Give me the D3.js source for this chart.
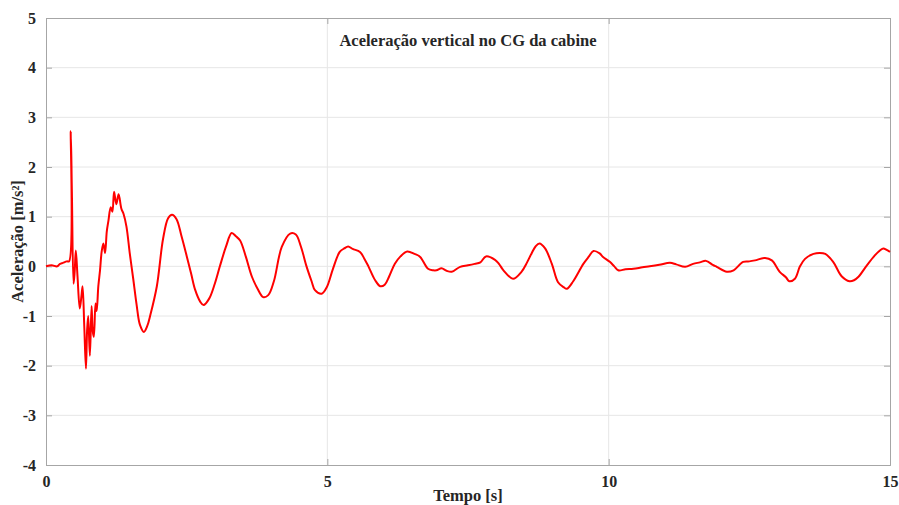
<!DOCTYPE html>
<html>
<head>
<meta charset="utf-8">
<script src="https://cdn.jsdelivr.net/npm/d3@7"></script>
<style>
  body { margin: 0; background: #fff; }
  text { font-family: "Liberation Serif", "Times New Roman", serif; font-weight: bold; fill: #262626; }
</style>
</head>
<body>
<svg id="chart"></svg>
<script>
var title = "Aceleração vertical no CG da cabine";
var xLabel = "Tempo [s]";
var yLabel = "Aceleração [m/s²]";
var xTicks = [0, 5, 10, 15];
var yTicks = [-4, -3, -2, -1, 0, 1, 2, 3, 4, 5];

// tempo [s] e aceleração [m/s²]
var tempo = [0, 0.1, 0.2, 0.25, 0.3, 0.37, 0.41, 0.44, 0.46, 0.49, 0.51, 0.53, 0.56, 0.6, 0.63, 0.65, 0.68, 0.71, 0.73, 0.75, 0.78, 0.81, 0.83, 0.85, 0.88, 0.9, 0.93, 0.96, 0.99, 1.02, 1.05, 1.08, 1.11, 1.15, 1.18, 1.21, 1.25, 1.29, 1.34, 1.38, 1.43, 1.49, 1.55, 1.61, 1.67, 1.74, 1.8, 1.85, 1.97, 2.08, 2.17, 2.24, 2.32, 2.41, 2.5, 2.58, 2.65, 2.74, 2.8, 2.9, 3.0, 3.09, 3.2, 3.3, 3.38, 3.45, 3.55, 3.66, 3.76, 3.86, 3.95, 4.05, 4.19, 4.34, 4.44, 4.53, 4.63, 4.72, 4.78, 4.9, 4.99, 5.1, 5.22, 5.3, 5.37, 5.45, 5.58, 5.66, 5.73, 5.85, 5.94, 6.02, 6.1, 6.2, 6.3, 6.42, 6.55, 6.65, 6.79, 6.88, 6.94, 7.03, 7.12, 7.21, 7.36, 7.5, 7.62, 7.72, 7.82, 7.98, 8.05, 8.13, 8.3, 8.45, 8.55, 8.63, 8.7, 8.77, 8.87, 8.99, 9.1, 9.2, 9.26, 9.37, 9.55, 9.65, 9.73, 9.84, 9.9, 10.02, 10.1, 10.17, 10.3, 10.44, 10.6, 10.73, 10.9, 11.09, 11.2, 11.36, 11.5, 11.62, 11.73, 11.85, 11.92, 12.1, 12.22, 12.39, 12.5, 12.6, 12.78, 12.9, 13.04, 13.15, 13.21, 13.31, 13.4, 13.49, 13.64, 13.75, 13.85, 13.99, 14.14, 14.28, 14.36, 14.44, 14.59, 14.73, 14.8, 14.88, 14.94, 15.0];
var aceleracao = [0, 0.02, 0.0, 0.05, 0.07, 0.1, 0.1, 2.72, 1.5, -0.35, -0.1, 0.32, -0.2, -0.85, -0.6, -0.4, -1.2, -2.06, -1.3, -1.0, -1.8, -0.8, -1.3, -1.42, -0.75, -0.9, -0.4, -0.08, 0.3, 0.46, 0.27, 0.7, 0.92, 1.19, 1.1, 1.5, 1.25, 1.45, 1.16, 1.05, 0.8, 0.25, -0.25, -0.77, -1.18, -1.32, -1.2, -1.0, -0.4, 0.55, 0.97, 1.04, 0.95, 0.6, 0.21, -0.15, -0.47, -0.71, -0.78, -0.65, -0.35, 0.0, 0.4, 0.67, 0.6, 0.52, 0.2, -0.21, -0.45, -0.62, -0.58, -0.3, 0.39, 0.66, 0.64, 0.4, 0.0, -0.3, -0.48, -0.55, -0.42, -0.05, 0.29, 0.36, 0.4, 0.35, 0.29, 0.15, 0.0, -0.28, -0.4, -0.37, -0.2, 0.05, 0.2, 0.3, 0.25, 0.19, -0.05, -0.08, -0.08, -0.04, -0.09, -0.11, -0.01, 0.02, 0.05, 0.08, 0.2, 0.13, 0.05, -0.08, -0.25, -0.11, 0.08, 0.26, 0.4, 0.46, 0.36, 0.05, -0.32, -0.42, -0.45, -0.3, 0.05, 0.2, 0.31, 0.26, 0.19, 0.09, 0.0, -0.08, -0.06, -0.05, -0.02, 0.0, 0.03, 0.07, 0.04, -0.01, 0.05, 0.08, 0.11, 0.03, -0.01, -0.11, -0.08, 0.09, 0.1, 0.12, 0.17, 0.12, -0.11, -0.22, -0.3, -0.25, 0.0, 0.15, 0.25, 0.27, 0.25, 0.09, -0.2, -0.3, -0.28, -0.21, 0.02, 0.22, 0.3, 0.36, 0.33, 0.29];

var W = 899, H = 505;
var margin = { top: 18, right: 9, bottom: 40, left: 46 };
var iw = W - margin.left - margin.right;
var ih = H - margin.top - margin.bottom;

var svg = d3.select("#chart").attr("width", W).attr("height", H);
var g = svg.append("g").attr("transform", "translate(" + margin.left + "," + margin.top + ")");

var x = d3.scaleLinear().domain([0, 15]).range([0, iw]);
var y = d3.scaleLinear().domain([-4, 5]).range([ih, 0]);

// grade
g.selectAll("line.gx").data(xTicks.slice(1, -1)).enter().append("line")
  .attr("x1", function(d) { return x(d); }).attr("x2", function(d) { return x(d); })
  .attr("y1", 0).attr("y2", ih)
  .attr("stroke", "#e6e6e6").attr("stroke-width", 1);
g.selectAll("line.gy").data(yTicks.slice(1, -1)).enter().append("line")
  .attr("y1", function(d) { return y(d); }).attr("y2", function(d) { return y(d); })
  .attr("x1", 0).attr("x2", iw)
  .attr("stroke", "#e6e6e6").attr("stroke-width", 1);

// eixos (hífen simples como no original)
var fmt = function(d) { return String(d); };
var xAxis = g.append("g").attr("transform", "translate(0," + ih + ")")
  .call(d3.axisBottom(x).tickValues(xTicks).tickSize(-6).tickPadding(11).tickFormat(fmt));
var yAxis = g.append("g")
  .call(d3.axisLeft(y).tickValues(yTicks).tickSize(-6).tickPadding(10).tickFormat(fmt));
g.append("g").attr("transform", "translate(" + iw + ",0)")
  .call(d3.axisRight(y).tickValues(yTicks).tickSize(-6).tickFormat(""));
g.append("g")
  .call(d3.axisTop(x).tickValues(xTicks).tickSize(-6).tickFormat(""));

g.selectAll(".domain, .tick line").attr("stroke", "#a6a6a6");
xAxis.selectAll("text").attr("font-size", 16).attr("fill", "#262626");
yAxis.selectAll("text").attr("font-size", 16).attr("fill", "#262626");

// linha
var line = d3.line()
  .x(function(d, i) { return x(tempo[i]); })
  .y(function(d) { return y(d); })
  .curve(d3.curveCatmullRom.alpha(0.5));

g.append("path").datum(aceleracao)
  .attr("d", line)
  .attr("fill", "none")
  .attr("stroke", "#ff0000")
  .attr("stroke-width", 2)
  .attr("stroke-linejoin", "round");

// textos
svg.append("text").attr("x", margin.left + iw / 2).attr("y", 46)
  .attr("text-anchor", "middle").attr("font-size", 16.5).text(title);
svg.append("text").attr("x", margin.left + iw / 2).attr("y", 501)
  .attr("text-anchor", "middle").attr("font-size", 16.5).text(xLabel);
svg.append("text")
  .attr("transform", "translate(23," + (margin.top + ih / 2) + ") rotate(-90)")
  .attr("text-anchor", "middle").attr("font-size", 16.5).text(yLabel);
</script>
</body>
</html>
